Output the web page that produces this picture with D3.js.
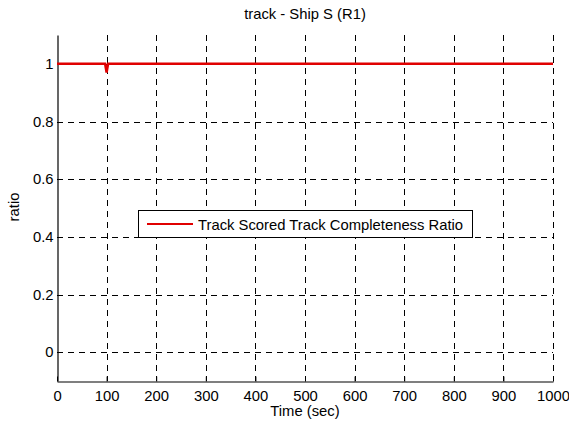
<!DOCTYPE html>
<html>
<head>
<meta charset="utf-8">
<script src="https://cdn.jsdelivr.net/npm/d3@7"></script>
<style>
  body { margin: 0; background: #fff; }
  text { font-family: "Liberation Sans", Arial, sans-serif; fill: #000; }
</style>
</head>
<body>
<svg id="chart" width="569" height="422"></svg>
<script>
// series data: time (sec) and completeness ratio
var timeValues = [0, 97, 100, 103, 1000];
var ratioValues = [1, 1, 0.97, 1, 1];
var xTicks = [0, 100, 200, 300, 400, 500, 600, 700, 800, 900, 1000];
var yTicks = [0, 0.2, 0.4, 0.6, 0.8, 1];
var seriesName = "Track Scored Track Completeness Ratio";

var svg = d3.select("#chart");
var plot = { left: 57, right: 553, top: 35, bottom: 381 };
var fontSize = "14.8px";

var xScale = d3.scaleLinear().domain([0, 1000]).range([plot.left, plot.right]);
var yScale = d3.scaleLinear().domain([-0.1, 1.1]).range([plot.bottom, plot.top]);

// grid
var grid = svg.append("g").attr("class", "grid");
grid.selectAll(".vg").data(xTicks.slice(1)).enter().append("line")
    .attr("x1", function (d) { return Math.round(xScale(d)) + 0.5; })
    .attr("x2", function (d) { return Math.round(xScale(d)) + 0.5; })
    .attr("y1", plot.top).attr("y2", plot.bottom)
    .style("stroke", "#000").style("stroke-width", 1)
    .style("stroke-dasharray", "6,5");
grid.selectAll(".hg").data(yTicks).enter().append("line")
    .attr("y1", function (d) { return Math.round(yScale(d)) + 0.5; })
    .attr("y2", function (d) { return Math.round(yScale(d)) + 0.5; })
    .attr("x1", plot.left).attr("x2", plot.right)
    .style("stroke", "#000").style("stroke-width", 1)
    .style("stroke-dasharray", "6,5");

// axes
var xAxis = svg.append("g")
    .attr("transform", "translate(0," + (plot.bottom + 0.5) + ")")
    .call(d3.axisBottom(xScale).tickValues(xTicks).tickSizeInner(-5).tickSizeOuter(0).tickPadding(9)
        .tickFormat(d3.format("d")));
var yAxis = svg.append("g")
    .attr("transform", "translate(" + (plot.left + 0.5) + ",0)")
    .call(d3.axisLeft(yScale).tickValues(yTicks).tickSizeInner(-5).tickSizeOuter(0).tickPadding(4)
        .tickFormat(function (d) { return d3.format("")(d); }));

[xAxis, yAxis].forEach(function (a) {
    a.select(".domain").style("stroke", "#000").style("stroke-width", 1.2);
    a.selectAll(".tick line").style("stroke", "#000");
    a.selectAll(".tick text").style("font-size", fontSize)
        .style("font-family", "'Liberation Sans', Arial, sans-serif").attr("fill", "#000");
});
yAxis.selectAll(".tick").attr("transform", function (d) {
    return "translate(0," + (Math.round(yScale(d)) + 0.5) + ")";
});

// line
var data = timeValues.map(function (t, i) { return { t: t, r: ratioValues[i] }; });
var line = d3.line()
    .x(function (d) { return xScale(d.t); })
    .y(function (d) { return yScale(d.r); });
svg.append("path").datum(data)
    .attr("d", line)
    .style("fill", "none").style("stroke", "#e00000").style("stroke-width", 2.5);

// title and labels
svg.append("text").attr("x", 305).attr("y", 19).attr("text-anchor", "middle")
    .style("font-size", fontSize).text("track - Ship S (R1)");
svg.append("text").attr("x", 305).attr("y", 416).attr("text-anchor", "middle")
    .style("font-size", fontSize).text("Time (sec)");
svg.append("text").attr("transform", "translate(19,207) rotate(-90)").attr("text-anchor", "middle")
    .style("font-size", fontSize).text("ratio");

// legend
var legend = svg.append("g");
legend.append("rect").attr("x", 138.5).attr("y", 210.5).attr("width", 334).attr("height", 27)
    .style("fill", "#fff").style("stroke", "#000").style("stroke-width", 1);
legend.append("line").attr("x1", 147).attr("x2", 193).attr("y1", 224).attr("y2", 224)
    .style("stroke", "#e00000").style("stroke-width", 2);
legend.append("text").attr("x", 198).attr("y", 229.5).style("font-size", fontSize).text(seriesName);
</script>
</body>
</html>
